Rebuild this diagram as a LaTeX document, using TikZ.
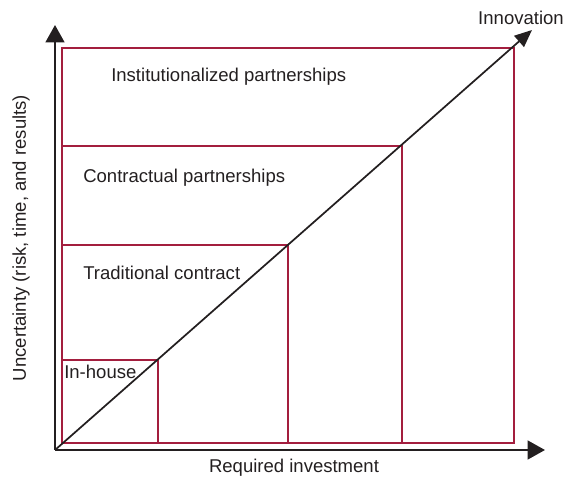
\documentclass[tikz,border=0pt]{standalone}
\usepackage{fontspec}
\setmainfont{Liberation Sans}
\usepackage{xcolor}
\usepackage{tikz}
\usetikzlibrary{arrows.meta}
\definecolor{boxred}{RGB}{163,30,62}
\definecolor{txtgray}{RGB}{35,31,32}

\begin{document}
\begin{tikzpicture}[x=0.75pt,y=0.75pt,
	axis/.style={txtgray,line width=1.8pt,-{Triangle[length=13pt,width=14pt]}},
	zone/.style={boxred,line width=1.8pt},
	lbl/.style={anchor=west,inner sep=0pt,text=txtgray,font=\fontsize{13.9}{16}\selectfont}]
							\useasboundingbox (0,0) rectangle (570,481);
							\coordinate (O) at (55,31);
							\coordinate (Ytip) at (55,456);
							\coordinate (Xtip) at (545,31);
							\coordinate (Dtip) at (532,451);
							\coordinate (P) at (62,38);
							
							% nested areas
							\draw[zone] (P) rectangle (514,433);
							\draw[zone] (P) rectangle (402,335);
							\draw[zone] (P) rectangle (288,236);
							\draw[zone] (P) rectangle (158,121);
							
							\draw[axis] (O) - - (Ytip);
							\draw[axis] (O) - - (Xtip);
							\draw[txtgray,line width=1.3pt,-{Triangle[length=13pt,width=11pt]}] (O) - - (Dtip);
							
							\node[lbl] (inst) at (111,404) {Institutionalized partnerships};
							\node[lbl] (contr) at (83,303) {Contractual partnerships};
							\node[lbl] (trad) at (83,208) {Traditional contract};
							\node[lbl] (inhouse) at (64,109) {In-house};
							
							\node[lbl,anchor=center] (innov) at (521,463) {Innovation};
							\node[lbl,anchor=center] (xlab) at (294,13) {Required investment};
							\node[lbl,anchor=center,rotate=90] (ylab) at (21,243) {Uncertainty (risk, time, and results)};
						\end{tikzpicture}
\end{document}
